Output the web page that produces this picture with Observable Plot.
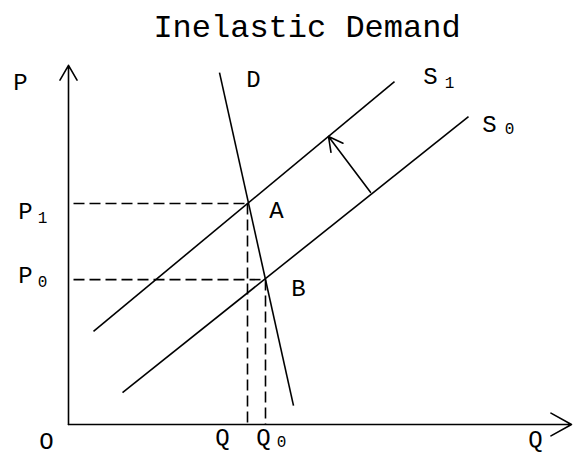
<!DOCTYPE html>
<html>
<head>
<meta charset="utf-8">
<script src="https://cdn.jsdelivr.net/npm/d3@7"></script>
<script src="https://cdn.jsdelivr.net/npm/@observablehq/plot@0.6"></script>
<style>
  html, body { margin: 0; padding: 0; background: #fff; }
  #wrap { position: relative; width: 574px; height: 456px; overflow: hidden; }
  #title {
    position: relative; height: 50px; box-sizing: border-box;
    padding-top: 13px; padding-left: 40px;
    font: 32px "Liberation Mono", "Courier New", monospace;
    line-height: 32px; text-align: center; color: #000;
  }
  #chart svg { display: block; overflow: visible; }
</style>
</head>
<body>
<div id="wrap">
  <div id="title">Inelastic Demand</div>
  <div id="chart"></div>
</div>
<script>
// ---- Data (quantity Q on x, price P on y) ----
const demandQ = [3.02, 4.5];
const demandP = [7.82, 0.42];
const supply1Q = [0.5, 6.52];
const supply1P = [2.07, 7.62];
const supply0Q = [1.08, 8.0];
const supply0P = [0.71, 6.84];
const eqNames = ["A", "B"];
const eqQ = [3.58, 3.94];
const eqP = [4.91, 3.22];
const shiftFromQ = 6.04, shiftFromP = 5.16;
const shiftToQ = 5.2, shiftToP = 6.4;
const axisQMax = 10.06;
const axisPMax = 7.98;

// Label texts and their anchor points (in Q, P units)
const labelText = ["P", "P", "P", "O", "Q", "Q", "Q", "D", "S", "S", "A", "B"];
const labelQ = [-0.96, -0.86, -0.86, -0.44, 3.08, 3.9, 9.34, 3.7, 7.24, 8.42, 4.16, 4.6];
const labelP = [7.6, 4.73, 3.31, -0.38, -0.29, -0.29, -0.33, 7.67, 7.73, 6.67, 4.76, 3.02];
const subText = ["1", "0", "0", "1", "0"];
const subQ = [-0.52, -0.52, 4.26, 7.62, 8.82];
const subP = [4.6, 3.16, -0.38, 7.6, 6.56];

// ---- Tables built from the arrays ----
const curves = [
  {x1: demandQ[0], y1: demandP[0], x2: demandQ[1], y2: demandP[1]},
  {x1: supply1Q[0], y1: supply1P[0], x2: supply1Q[1], y2: supply1P[1]},
  {x1: supply0Q[0], y1: supply0P[0], x2: supply0Q[1], y2: supply0P[1]}
];
const dashH = eqNames.map((n, i) => ({x1: 0.1, y1: eqP[i], x2: eqQ[i], y2: eqP[i]}));
const dashV = eqNames.map((n, i) => ({x1: eqQ[i], y1: eqP[i], x2: eqQ[i], y2: 0}));
const labels = labelText.map((t, i) => ({t, x: labelQ[i], y: labelP[i]}));
const subs = subText.map((t, i) => ({t, x: subQ[i], y: subP[i]}));

const font = '"Liberation Mono", "Courier New", monospace';
const sw = 1.6;

const chart = Plot.plot({
  width: 574,
  height: 406,
  marginLeft: 68,
  marginRight: 6,
  marginTop: 14,
  marginBottom: 32,
  x: {domain: [0, 10], axis: null},
  y: {domain: [0, 8], axis: null},
  style: {background: "#fff", overflow: "visible", fontFamily: font},
  marks: [
    // axes
    Plot.arrow([{x1: 0, y1: 0, x2: 0, y2: axisPMax}], {x1: "x1", y1: "y1", x2: "x2", y2: "y2", stroke: "#000", strokeWidth: sw, headLength: 16, headAngle: 60}),
    Plot.arrow([{x1: 0, y1: 0, x2: axisQMax, y2: 0}], {x1: "x1", y1: "y1", x2: "x2", y2: "y2", stroke: "#000", strokeWidth: sw, headLength: 22, headAngle: 58}),
    // dashed guides
    Plot.link(dashH, {x1: "x1", y1: "y1", x2: "x2", y2: "y2", stroke: "#000", strokeWidth: sw, strokeDasharray: "11,5"}),
    Plot.link(dashV, {x1: "x1", y1: "y1", x2: "x2", y2: "y2", stroke: "#000", strokeWidth: sw, strokeDasharray: "11,5"}),
    // demand and supply curves
    Plot.link(curves, {x1: "x1", y1: "y1", x2: "x2", y2: "y2", stroke: "#000", strokeWidth: sw}),
    // supply shift arrow
    Plot.arrow([{x1: shiftFromQ, y1: shiftFromP, x2: shiftToQ, y2: shiftToP}], {x1: "x1", y1: "y1", x2: "x2", y2: "y2", stroke: "#000", strokeWidth: sw, headLength: 15, headAngle: 56}),
    // labels
    Plot.text(labels, {x: "x", y: "y", text: "t", fontSize: 24, fill: "#000", fontFamily: font}),
    Plot.text(subs, {x: "x", y: "y", text: "t", fontSize: 16, fill: "#000", fontFamily: font})
  ]
});
document.getElementById("chart").appendChild(chart);
</script>
</body>
</html>
